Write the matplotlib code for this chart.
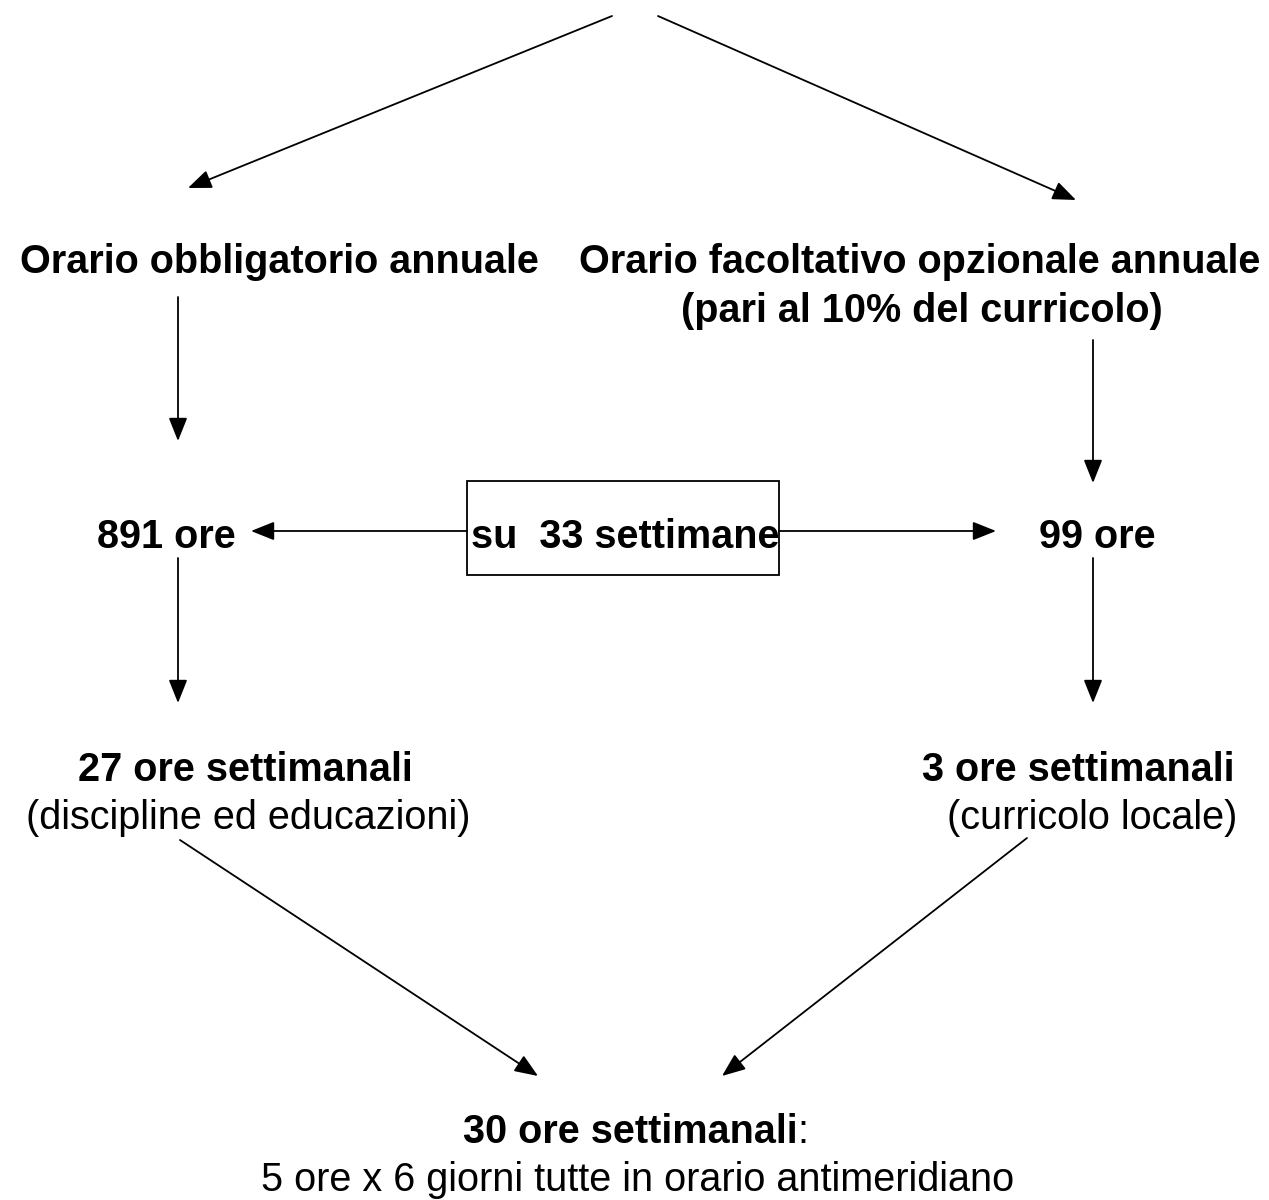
import matplotlib
matplotlib.use("Agg")
import matplotlib.pyplot as plt
from matplotlib.patches import Rectangle

plt.rcParams['font.family'] = ['Liberation Sans', 'DejaVu Sans']

# ---- content ----
bold_labels = ["Orario obbligatorio annuale",
               "Orario facoltativo opzionale annuale",
               "(pari al 10% del curricolo)",
               "891 ore", "99 ore",
               "27 ore settimanali", "3 ore settimanali",
               "30 ore settimanali"]
plain_labels = ["(discipline ed educazioni)", "(curricolo locale)",
                "5 ore x 6 giorni tutte in orario antimeridiano"]
box_label = "su  33 settimane"

# ---- layout (pixel coordinates, y downwards; y = text baseline) ----
W, H = 1269, 1200
fig = plt.figure(figsize=(W / 100, H / 100), dpi=100)
ax = fig.add_axes([0, 0, 1, 1])
ax.set_xlim(0, W)
ax.set_ylim(H, 0)
ax.axis('off')

FS = 28.5
bold_pos = [(279, 273), (920, 273), (922, 322), (166, 548), (1097, 548),
            (245, 781), (1078, 781), (630, 1143)]
plain_pos = [(248, 829), (1092, 829), (638, 1191)]

texts = {}
for lab, (x, y) in zip(bold_labels, bold_pos):
    texts[lab] = ax.text(x, y, lab, fontsize=FS, fontweight='bold',
                         ha='center', va='baseline')
for lab, (x, y) in zip(plain_labels, plain_pos):
    ax.text(x, y, lab, fontsize=FS, ha='center', va='baseline')

# colon after "30 ore settimanali"
ax.annotate(":", xy=(1, 0), xycoords=texts["30 ore settimanali"],
            fontsize=FS, ha='left', va='bottom')

# box
ax.add_patch(Rectangle((467, 481), 312, 94, fill=False, edgecolor='black', lw=1.3))
ax.text(471, 548, box_label, fontsize=FS, fontweight='bold', ha='left', va='baseline')

# arrows
arrows = [((612, 16), (188, 188)),
          ((658, 16), (1076, 200)),
          ((178, 297), (178, 441)),
          ((1093, 340), (1093, 483)),
          ((467, 531), (251, 531)),
          ((779, 531), (996, 531)),
          ((178, 558), (178, 703)),
          ((1093, 558), (1093, 703)),
          ((180, 840), (538, 1076)),
          ((1027, 838), (722, 1076))]
for (x0, y0), (x1, y1) in arrows:
    ax.annotate("", xy=(x1, y1), xytext=(x0, y0),
                arrowprops=dict(arrowstyle='-|>,head_length=0.65,head_width=0.26',
                                color='black', lw=1.3,
                                mutation_scale=22, shrinkA=0, shrinkB=0))

fig.savefig("out.png", dpi=100)
